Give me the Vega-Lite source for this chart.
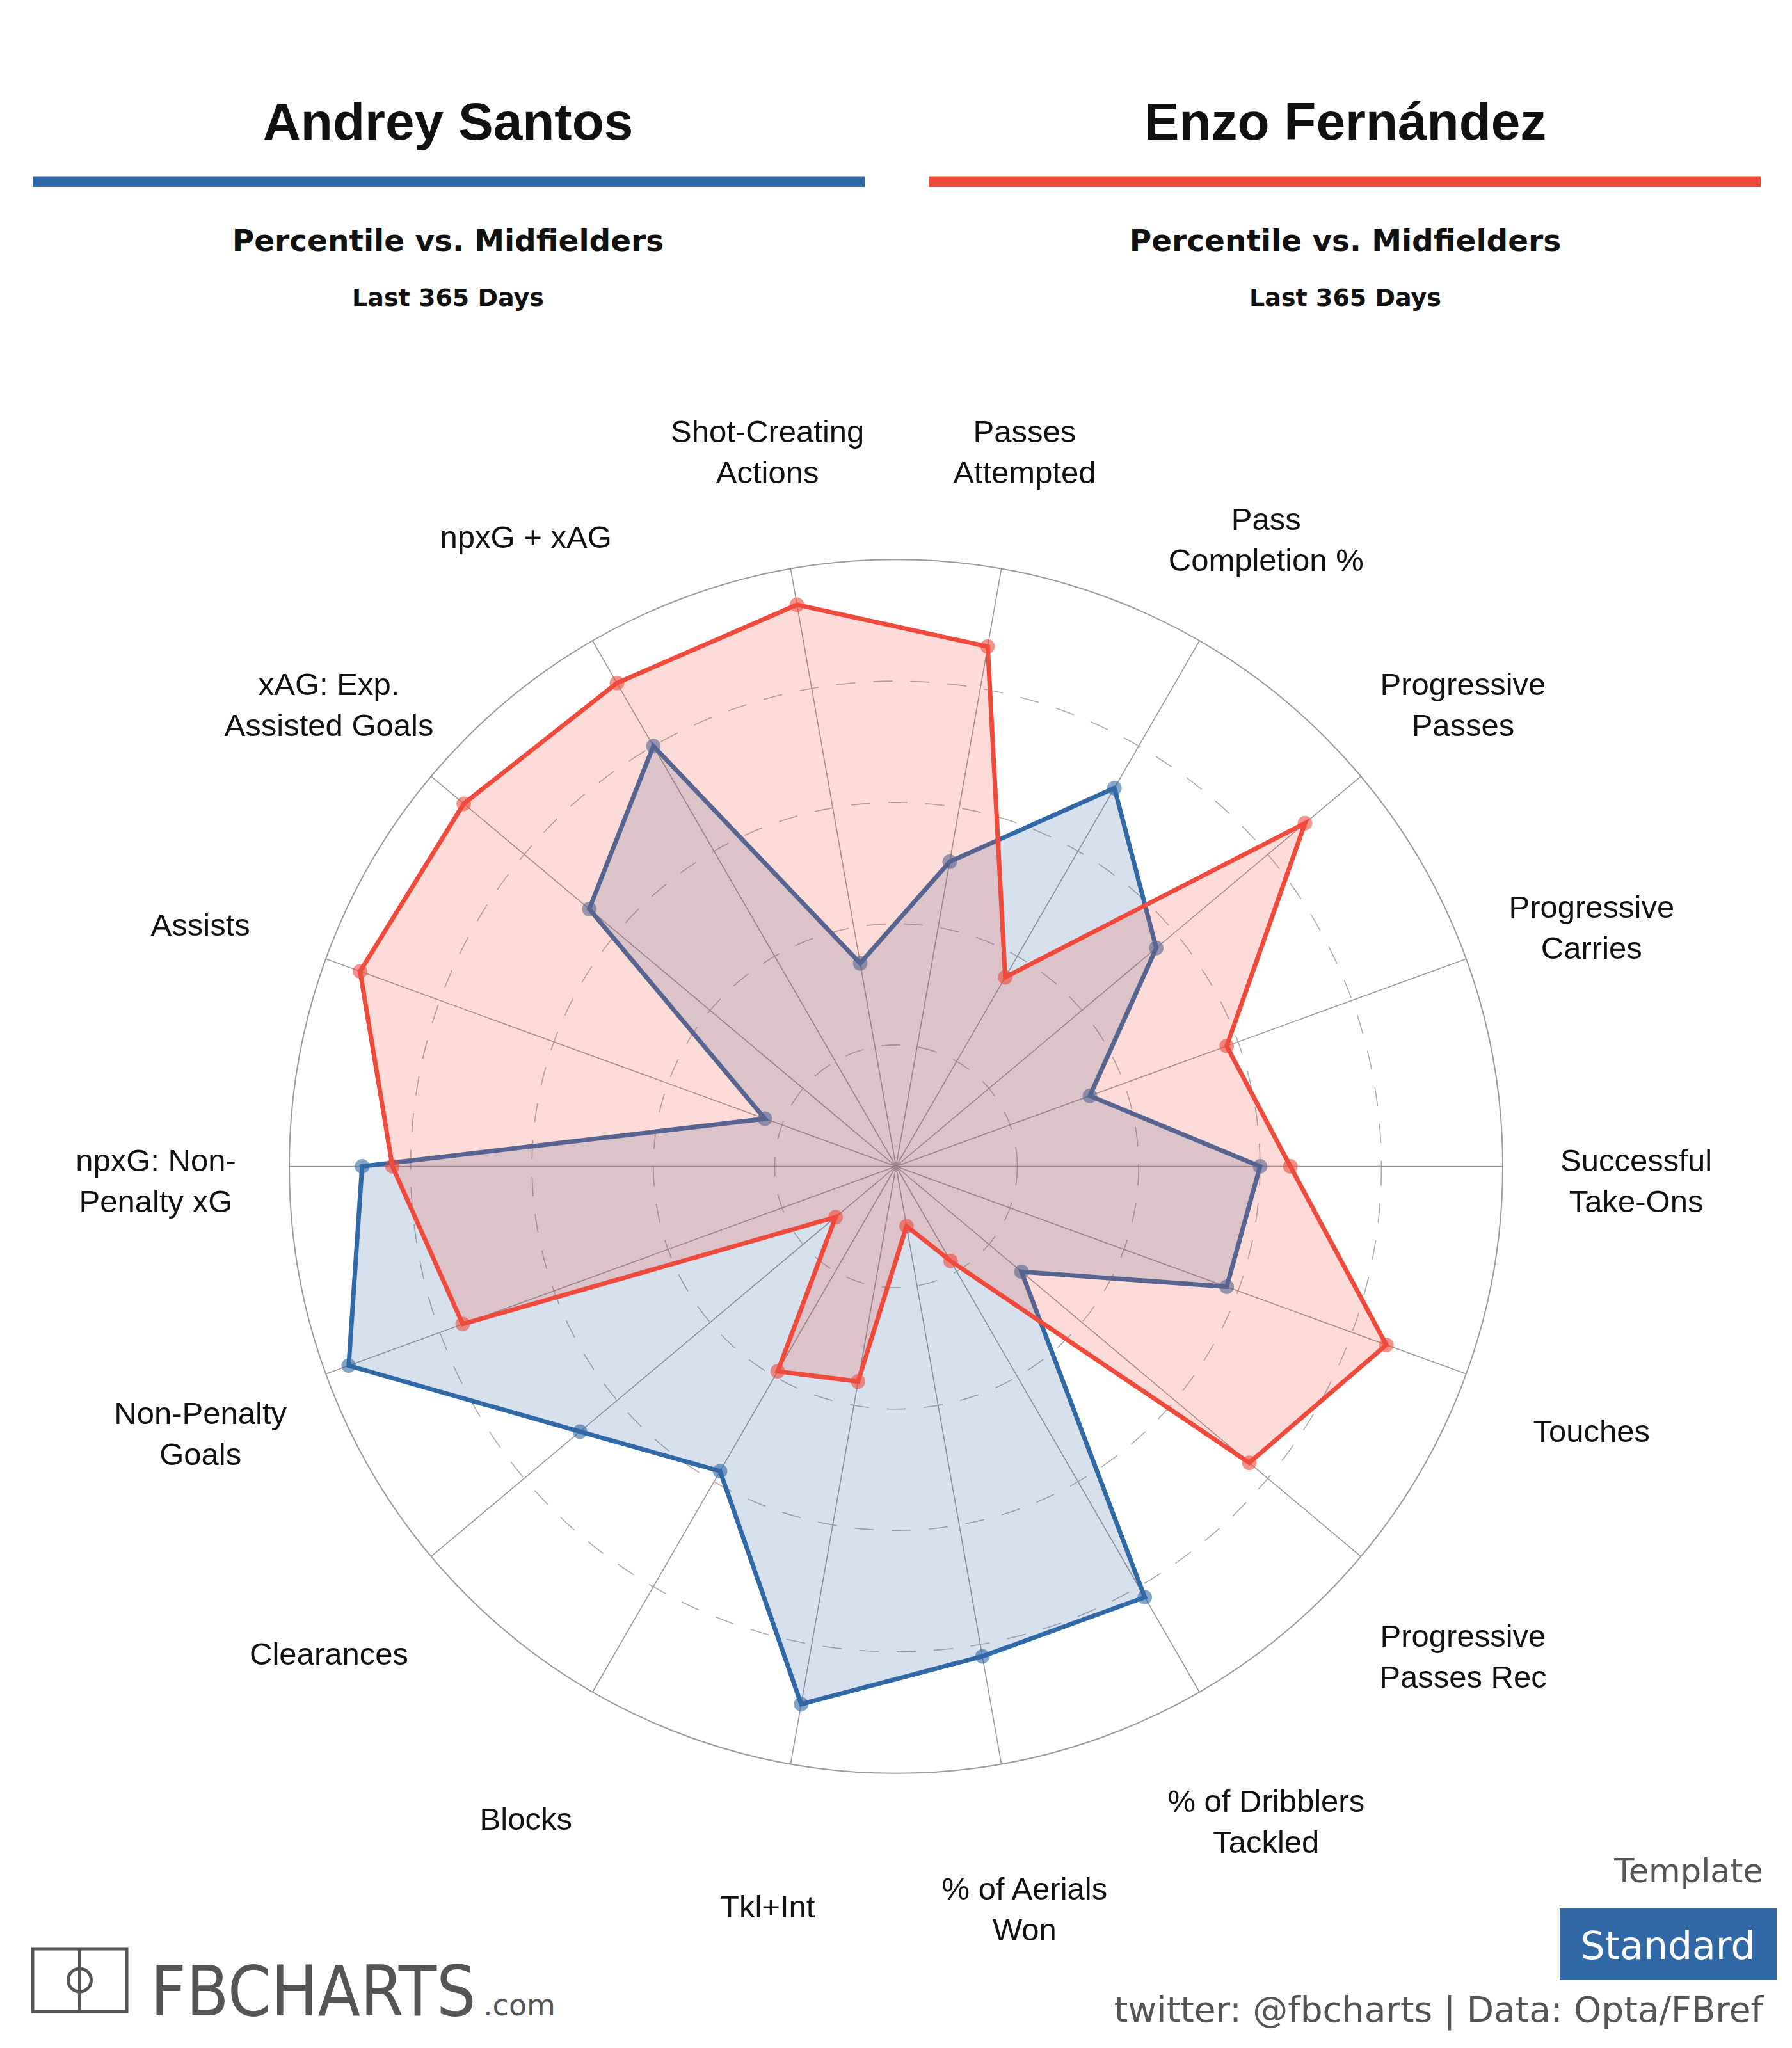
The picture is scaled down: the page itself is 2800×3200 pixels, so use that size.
{
  "$schema": "https://vega.github.io/schema/vega-lite/v6.json",
  "width": 2800,
  "height": 3200,
  "padding": 0,
  "autosize": {"type": "none"},
  "background": "#ffffff",
  "config": {"view": {"stroke": null}},
  "data": {"values": [{"k": 1}]},
  "datasets": {
    "metrics": [
      {"i": 0, "metric": "Successful\nTake-Ons"},
      {"i": 1, "metric": "Progressive\nCarries"},
      {"i": 2, "metric": "Progressive\nPasses"},
      {"i": 3, "metric": "Pass\nCompletion %"},
      {"i": 4, "metric": "Passes\nAttempted"},
      {"i": 5, "metric": "Shot-Creating\nActions"},
      {"i": 6, "metric": "npxG + xAG"},
      {"i": 7, "metric": "xAG: Exp.\nAssisted Goals"},
      {"i": 8, "metric": "Assists"},
      {"i": 9, "metric": "npxG: Non-\nPenalty xG"},
      {"i": 10, "metric": "Non-Penalty\nGoals"},
      {"i": 11, "metric": "Clearances"},
      {"i": 12, "metric": "Blocks"},
      {"i": 13, "metric": "Tkl+Int"},
      {"i": 14, "metric": "% of Aerials\nWon"},
      {"i": 15, "metric": "% of Dribblers\nTackled"},
      {"i": 16, "metric": "Progressive\nPasses Rec"},
      {"i": 17, "metric": "Touches"}
    ],
    "scores": [
      {"player": "Andrey Santos", "i": 0, "pct": 60},
      {"player": "Andrey Santos", "i": 1, "pct": 34},
      {"player": "Andrey Santos", "i": 2, "pct": 56},
      {"player": "Andrey Santos", "i": 3, "pct": 72},
      {"player": "Andrey Santos", "i": 4, "pct": 51},
      {"player": "Andrey Santos", "i": 5, "pct": 34},
      {"player": "Andrey Santos", "i": 6, "pct": 80},
      {"player": "Andrey Santos", "i": 7, "pct": 66},
      {"player": "Andrey Santos", "i": 8, "pct": 23},
      {"player": "Andrey Santos", "i": 9, "pct": 88},
      {"player": "Andrey Santos", "i": 10, "pct": 96},
      {"player": "Andrey Santos", "i": 11, "pct": 68},
      {"player": "Andrey Santos", "i": 12, "pct": 58},
      {"player": "Andrey Santos", "i": 13, "pct": 90},
      {"player": "Andrey Santos", "i": 14, "pct": 82},
      {"player": "Andrey Santos", "i": 15, "pct": 82},
      {"player": "Andrey Santos", "i": 16, "pct": 27},
      {"player": "Andrey Santos", "i": 17, "pct": 58},
      {"player": "Enzo Fernández", "i": 0, "pct": 65},
      {"player": "Enzo Fernández", "i": 1, "pct": 58},
      {"player": "Enzo Fernández", "i": 2, "pct": 88},
      {"player": "Enzo Fernández", "i": 3, "pct": 36},
      {"player": "Enzo Fernández", "i": 4, "pct": 87},
      {"player": "Enzo Fernández", "i": 5, "pct": 94},
      {"player": "Enzo Fernández", "i": 6, "pct": 92},
      {"player": "Enzo Fernández", "i": 7, "pct": 93},
      {"player": "Enzo Fernández", "i": 8, "pct": 94},
      {"player": "Enzo Fernández", "i": 9, "pct": 83},
      {"player": "Enzo Fernández", "i": 10, "pct": 76},
      {"player": "Enzo Fernández", "i": 11, "pct": 13},
      {"player": "Enzo Fernández", "i": 12, "pct": 39},
      {"player": "Enzo Fernández", "i": 13, "pct": 36},
      {"player": "Enzo Fernández", "i": 14, "pct": 10},
      {"player": "Enzo Fernández", "i": 15, "pct": 18},
      {"player": "Enzo Fernández", "i": 16, "pct": 76},
      {"player": "Enzo Fernández", "i": 17, "pct": 86}
    ]
  },
  "layer": [
    {
      "data": {"values": [{"level": 20}, {"level": 40}, {"level": 60}, {"level": 80}]},
      "transform": [{"calculate": "0", "as": "cx"}, {"calculate": "0", "as": "cy"}],
      "mark": {"type": "point", "shape": "circle", "filled": false, "stroke": "#aaaaaa", "strokeWidth": 1.6, "strokeDash": [30, 28], "opacity": 1},
      "encoding": {
        "x": {"field": "cx", "type": "quantitative", "scale": {"domain": [-147.679, 147.679], "nice": false, "zero": false}, "axis": null},
        "y": {"field": "cy", "type": "quantitative", "scale": {"domain": [-145.306, 192.247], "nice": false, "zero": false}, "axis": null},
        "size": {"field": "level", "type": "quantitative", "scale": {"type": "pow", "exponent": 2, "domain": [0, 100], "range": [0, 3594816]}, "legend": null}
      }
    },
    {
      "data": {"values": [{"level": 100}]},
      "transform": [{"calculate": "0", "as": "cx"}, {"calculate": "0", "as": "cy"}],
      "mark": {"type": "point", "shape": "circle", "filled": false, "stroke": "#9a9a9a", "strokeWidth": 2, "opacity": 1},
      "encoding": {
        "x": {"field": "cx", "type": "quantitative", "axis": null},
        "y": {"field": "cy", "type": "quantitative", "axis": null},
        "size": {"field": "level", "type": "quantitative", "legend": null}
      }
    },
    {
      "data": {"name": "metrics"},
      "transform": [
        {"calculate": "datum.i * PI / 9", "as": "a"},
        {"calculate": "0", "as": "cx"},
        {"calculate": "0", "as": "cy"},
        {"calculate": "100 * cos(datum.a)", "as": "ex"},
        {"calculate": "100 * sin(datum.a)", "as": "ey"}
      ],
      "mark": {"type": "rule", "stroke": "#999999", "strokeWidth": 1.6},
      "encoding": {
        "x": {"field": "cx", "type": "quantitative", "axis": null},
        "y": {"field": "cy", "type": "quantitative", "axis": null},
        "x2": {"field": "ex"},
        "y2": {"field": "ey"}
      }
    },
    {
      "data": {"name": "scores"},
      "transform": [
        {"filter": "datum.player === 'Andrey Santos'"},
        {"calculate": "datum.i * PI / 9", "as": "a"},
        {"calculate": "datum.pct * cos(datum.a)", "as": "px"},
        {"calculate": "datum.pct * sin(datum.a)", "as": "py"}
      ],
      "mark": {"type": "line", "interpolate": "linear-closed", "fill": "#3169a6", "fillOpacity": 0.2, "stroke": "#3169a6", "strokeWidth": 0, "strokeOpacity": 0},
      "encoding": {
        "x": {"field": "px", "type": "quantitative", "axis": null},
        "y": {"field": "py", "type": "quantitative", "axis": null},
        "order": {"field": "i", "type": "quantitative"}
      }
    },
    {
      "data": {"name": "scores"},
      "transform": [
        {"filter": "datum.player === 'Andrey Santos'"},
        {"calculate": "datum.i * PI / 9", "as": "a"},
        {"calculate": "datum.pct * cos(datum.a)", "as": "px"},
        {"calculate": "datum.pct * sin(datum.a)", "as": "py"}
      ],
      "mark": {"type": "point", "shape": "circle", "filled": true, "size": 520, "fill": "#3169a6", "fillOpacity": 0.6, "strokeWidth": 0},
      "encoding": {
        "x": {"field": "px", "type": "quantitative", "axis": null},
        "y": {"field": "py", "type": "quantitative", "axis": null}
      }
    },
    {
      "data": {"name": "scores"},
      "transform": [
        {"filter": "datum.player === 'Andrey Santos'"},
        {"calculate": "datum.i * PI / 9", "as": "a"},
        {"calculate": "datum.pct * cos(datum.a)", "as": "px"},
        {"calculate": "datum.pct * sin(datum.a)", "as": "py"}
      ],
      "mark": {"type": "line", "interpolate": "linear-closed", "stroke": "#3169a6", "strokeWidth": 7},
      "encoding": {
        "x": {"field": "px", "type": "quantitative", "axis": null},
        "y": {"field": "py", "type": "quantitative", "axis": null},
        "order": {"field": "i", "type": "quantitative"}
      }
    },
    {
      "data": {"name": "scores"},
      "transform": [
        {"filter": "datum.player === 'Enzo Fernández'"},
        {"calculate": "datum.i * PI / 9", "as": "a"},
        {"calculate": "datum.pct * cos(datum.a)", "as": "px"},
        {"calculate": "datum.pct * sin(datum.a)", "as": "py"}
      ],
      "mark": {"type": "line", "interpolate": "linear-closed", "fill": "#ef4a3b", "fillOpacity": 0.2, "stroke": "#ef4a3b", "strokeWidth": 0, "strokeOpacity": 0},
      "encoding": {
        "x": {"field": "px", "type": "quantitative", "axis": null},
        "y": {"field": "py", "type": "quantitative", "axis": null},
        "order": {"field": "i", "type": "quantitative"}
      }
    },
    {
      "data": {"name": "scores"},
      "transform": [
        {"filter": "datum.player === 'Enzo Fernández'"},
        {"calculate": "datum.i * PI / 9", "as": "a"},
        {"calculate": "datum.pct * cos(datum.a)", "as": "px"},
        {"calculate": "datum.pct * sin(datum.a)", "as": "py"}
      ],
      "mark": {"type": "point", "shape": "circle", "filled": true, "size": 520, "fill": "#ef4a3b", "fillOpacity": 0.6, "strokeWidth": 0},
      "encoding": {
        "x": {"field": "px", "type": "quantitative", "axis": null},
        "y": {"field": "py", "type": "quantitative", "axis": null}
      }
    },
    {
      "data": {"name": "scores"},
      "transform": [
        {"filter": "datum.player === 'Enzo Fernández'"},
        {"calculate": "datum.i * PI / 9", "as": "a"},
        {"calculate": "datum.pct * cos(datum.a)", "as": "px"},
        {"calculate": "datum.pct * sin(datum.a)", "as": "py"}
      ],
      "mark": {"type": "line", "interpolate": "linear-closed", "stroke": "#ef4a3b", "strokeWidth": 7},
      "encoding": {
        "x": {"field": "px", "type": "quantitative", "axis": null},
        "y": {"field": "py", "type": "quantitative", "axis": null},
        "order": {"field": "i", "type": "quantitative"}
      }
    },
    {
      "data": {"name": "metrics"},
      "transform": [
        {"filter": "indexof(datum.metric, '\\n') < 0"},
        {"calculate": "datum.i * PI / 9", "as": "a"},
        {"calculate": "122 * cos(datum.a)", "as": "lx"},
        {"calculate": "122 * sin(datum.a)", "as": "ly"}
      ],
      "mark": {"type": "text", "align": "center", "baseline": "middle", "dy": 20, "font": "Liberation Sans", "fontSize": 49, "fill": "#111111"},
      "encoding": {
        "x": {"field": "lx", "type": "quantitative", "axis": null},
        "y": {"field": "ly", "type": "quantitative", "axis": null},
        "text": {"field": "metric", "type": "nominal"}
      }
    },
    {
      "data": {"name": "metrics"},
      "transform": [
        {"filter": "indexof(datum.metric, '\\n') >= 0"},
        {"calculate": "datum.i * PI / 9", "as": "a"},
        {"calculate": "122 * cos(datum.a)", "as": "lx"},
        {"calculate": "122 * sin(datum.a)", "as": "ly"}
      ],
      "mark": {"type": "text", "align": "center", "baseline": "middle", "dy": -8, "font": "Liberation Sans", "fontSize": 49, "lineHeight": 64, "lineBreak": "\n", "fill": "#111111"},
      "encoding": {
        "x": {"field": "lx", "type": "quantitative", "axis": null},
        "y": {"field": "ly", "type": "quantitative", "axis": null},
        "text": {"field": "metric", "type": "nominal"}
      }
    },
    {
      "transform": [{"calculate": "-73.84", "as": "tx"}, {"calculate": "169.25", "as": "ty"}],
      "mark": {"type": "text", "text": "Andrey Santos", "align": "center", "baseline": "alphabetic", "font": "Liberation Sans", "fontWeight": "bold", "fontSize": 82, "fill": "#111111"},
      "encoding": {"x": {"field": "tx", "type": "quantitative", "axis": null}, "y": {"field": "ty", "type": "quantitative", "axis": null}}
    },
    {
      "transform": [{"calculate": "74.05", "as": "tx"}, {"calculate": "169.25", "as": "ty"}],
      "mark": {"type": "text", "text": "Enzo Fernández", "align": "center", "baseline": "alphabetic", "font": "Liberation Sans", "fontWeight": "bold", "fontSize": 82, "fill": "#111111"},
      "encoding": {"x": {"field": "tx", "type": "quantitative", "axis": null}, "y": {"field": "ty", "type": "quantitative", "axis": null}}
    },
    {
      "transform": [{"calculate": "-142.30", "as": "x1"}, {"calculate": "-5.17", "as": "x2"}, {"calculate": "162.32", "as": "ty"}],
      "mark": {"type": "rule", "stroke": "#3169a6", "strokeWidth": 16.5, "strokeCap": "butt"},
      "encoding": {"x": {"field": "x1", "type": "quantitative", "axis": null}, "x2": {"field": "x2"}, "y": {"field": "ty", "type": "quantitative", "axis": null}}
    },
    {
      "transform": [{"calculate": "5.38", "as": "x1"}, {"calculate": "142.51", "as": "x2"}, {"calculate": "162.32", "as": "ty"}],
      "mark": {"type": "rule", "stroke": "#ef4a3b", "strokeWidth": 16.5, "strokeCap": "butt"},
      "encoding": {"x": {"field": "x1", "type": "quantitative", "axis": null}, "x2": {"field": "x2"}, "y": {"field": "ty", "type": "quantitative", "axis": null}}
    },
    {
      "transform": [{"calculate": "-73.84", "as": "tx"}, {"calculate": "150.91", "as": "ty"}],
      "mark": {"type": "text", "text": "Percentile vs. Midfielders", "align": "center", "baseline": "alphabetic", "font": "DejaVu Sans", "fontWeight": "bold", "fontSize": 47, "fill": "#111111"},
      "encoding": {"x": {"field": "tx", "type": "quantitative", "axis": null}, "y": {"field": "ty", "type": "quantitative", "axis": null}}
    },
    {
      "transform": [{"calculate": "74.05", "as": "tx"}, {"calculate": "150.91", "as": "ty"}],
      "mark": {"type": "text", "text": "Percentile vs. Midfielders", "align": "center", "baseline": "alphabetic", "font": "DejaVu Sans", "fontWeight": "bold", "fontSize": 47, "fill": "#111111"},
      "encoding": {"x": {"field": "tx", "type": "quantitative", "axis": null}, "y": {"field": "ty", "type": "quantitative", "axis": null}}
    },
    {
      "transform": [{"calculate": "-73.84", "as": "tx"}, {"calculate": "141.83", "as": "ty"}],
      "mark": {"type": "text", "text": "Last 365 Days", "align": "center", "baseline": "alphabetic", "font": "DejaVu Sans", "fontWeight": "bold", "fontSize": 38, "fill": "#111111"},
      "encoding": {"x": {"field": "tx", "type": "quantitative", "axis": null}, "y": {"field": "ty", "type": "quantitative", "axis": null}}
    },
    {
      "transform": [{"calculate": "74.05", "as": "tx"}, {"calculate": "141.83", "as": "ty"}],
      "mark": {"type": "text", "text": "Last 365 Days", "align": "center", "baseline": "alphabetic", "font": "DejaVu Sans", "fontWeight": "bold", "fontSize": 38, "fill": "#111111"},
      "encoding": {"x": {"field": "tx", "type": "quantitative", "axis": null}, "y": {"field": "ty", "type": "quantitative", "axis": null}}
    },
    {
      "transform": [{"calculate": "-142.30", "as": "x1"}, {"calculate": "-126.79", "as": "x2"}, {"calculate": "-128.96", "as": "y1"}, {"calculate": "-139.29", "as": "y2"}],
      "mark": {"type": "rect", "filled": false, "stroke": "#555555", "strokeWidth": 5},
      "encoding": {"x": {"field": "x1", "type": "quantitative", "axis": null}, "x2": {"field": "x2"}, "y": {"field": "y1", "type": "quantitative", "axis": null}, "y2": {"field": "y2"}}
    },
    {
      "transform": [{"calculate": "-134.55", "as": "x1"}, {"calculate": "-128.96", "as": "y1"}, {"calculate": "-139.29", "as": "y2"}],
      "mark": {"type": "rule", "stroke": "#555555", "strokeWidth": 5},
      "encoding": {"x": {"field": "x1", "type": "quantitative", "axis": null}, "y": {"field": "y1", "type": "quantitative", "axis": null}, "y2": {"field": "y2"}}
    },
    {
      "transform": [{"calculate": "-134.55", "as": "tx"}, {"calculate": "-134.12", "as": "ty"}],
      "mark": {"type": "point", "shape": "circle", "filled": false, "size": 1300, "stroke": "#555555", "strokeWidth": 5, "opacity": 1},
      "encoding": {"x": {"field": "tx", "type": "quantitative", "axis": null}, "y": {"field": "ty", "type": "quantitative", "axis": null}}
    },
    {
      "transform": [{"calculate": "-122.89", "as": "tx"}, {"calculate": "-139.92", "as": "ty"}],
      "mark": {"type": "text", "text": "FBCHARTS", "align": "left", "baseline": "alphabetic", "font": "DejaVu Sans Condensed", "fontSize": 108, "fill": "#555555"},
      "encoding": {"x": {"field": "tx", "type": "quantitative", "axis": null}, "y": {"field": "ty", "type": "quantitative", "axis": null}}
    },
    {
      "transform": [{"calculate": "-68.04", "as": "tx"}, {"calculate": "-139.92", "as": "ty"}],
      "mark": {"type": "text", "text": ".com", "align": "left", "baseline": "alphabetic", "font": "DejaVu Sans", "fontSize": 46, "fill": "#555555"},
      "encoding": {"x": {"field": "tx", "type": "quantitative", "axis": null}, "y": {"field": "ty", "type": "quantitative", "axis": null}}
    },
    {
      "transform": [{"calculate": "142.93", "as": "tx"}, {"calculate": "-117.98", "as": "ty"}],
      "mark": {"type": "text", "text": "Template", "align": "right", "baseline": "alphabetic", "font": "DejaVu Sans", "fontSize": 51, "fill": "#555555"},
      "encoding": {"x": {"field": "tx", "type": "quantitative", "axis": null}, "y": {"field": "ty", "type": "quantitative", "axis": null}}
    },
    {
      "transform": [{"calculate": "109.39", "as": "x1"}, {"calculate": "145.15", "as": "x2"}, {"calculate": "-122.31", "as": "y1"}, {"calculate": "-134.12", "as": "y2"}],
      "mark": {"type": "rect", "fill": "#3169a6"},
      "encoding": {"x": {"field": "x1", "type": "quantitative", "axis": null}, "x2": {"field": "x2"}, "y": {"field": "y1", "type": "quantitative", "axis": null}, "y2": {"field": "y2"}}
    },
    {
      "transform": [{"calculate": "127.22", "as": "tx"}, {"calculate": "-130.64", "as": "ty"}],
      "mark": {"type": "text", "text": "Standard", "align": "center", "baseline": "alphabetic", "font": "DejaVu Sans", "fontSize": 60, "fill": "#ffffff"},
      "encoding": {"x": {"field": "tx", "type": "quantitative", "axis": null}, "y": {"field": "ty", "type": "quantitative", "axis": null}}
    },
    {
      "transform": [{"calculate": "142.93", "as": "tx"}, {"calculate": "-141.03", "as": "ty"}],
      "mark": {"type": "text", "text": "twitter: @fbcharts | Data: Opta/FBref", "align": "right", "baseline": "alphabetic", "font": "DejaVu Sans", "fontSize": 55, "fill": "#555555"},
      "encoding": {"x": {"field": "tx", "type": "quantitative", "axis": null}, "y": {"field": "ty", "type": "quantitative", "axis": null}}
    }
  ]
}
